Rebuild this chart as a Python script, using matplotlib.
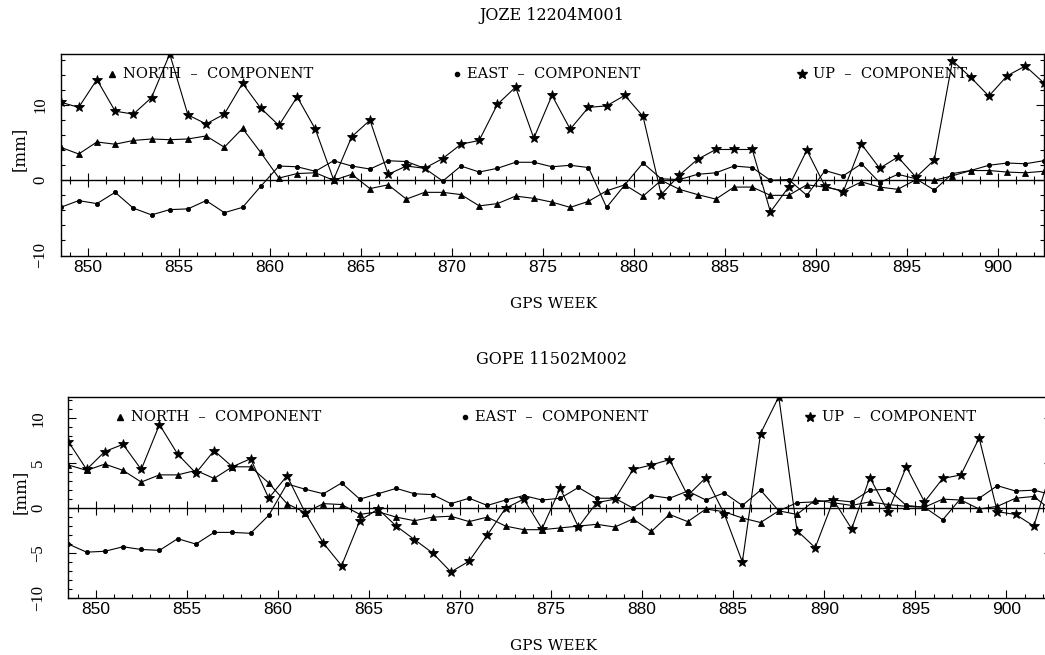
import numpy as np
import matplotlib
matplotlib.use("Agg")
import matplotlib.pyplot as plt
from matplotlib.ticker import MultipleLocator

# ---------------- data ----------------
weeks = np.arange(848.5, 903.0, 1.0)

joze_north = [4.4, 3.5, 5.1, 4.8, 5.3, 5.5, 5.4, 5.5, 5.9, 4.4, 6.9, 3.7,
              0.3, 0.9, 1.0, 0.0, 0.8, -1.1, -0.6, -2.5, -1.6, -1.6,
              -1.9, -3.4, -3.1, -2.1, -2.4, -2.9, -3.6, -2.8, -1.4, -0.6,
              -2.1, 0.0, -1.2, -1.9, -2.5, -0.9, -0.9, -2.0, -2.0, -0.6,
              -0.9, -1.4, -0.2, -0.9, -1.2, 0.1, 0.0, 0.6, 1.3, 1.3,
              1.1, 1.0, 1.2]
joze_east = [-3.6, -2.7, -3.1, -1.6, -3.7, -4.6, -3.9, -3.8, -2.7, -4.3, -3.6, -0.8,
             1.9, 1.8, 1.2, 2.6, 1.9, 1.5, 2.6, 2.5, 1.6, -0.1,
             1.9, 1.1, 1.6, 2.4, 2.4, 1.8, 2.0, 1.7, -3.6, -0.6,
             2.3, 0.2, 0.1, 0.8, 1.0, 1.9, 1.7, 0.0, 0.1, -2.0,
             1.3, 0.6, 2.2, -0.3, 0.8, 0.2, -1.3, 0.9, 1.3, 2.0,
             2.3, 2.2, 2.6]
joze_up = [10.4, 9.7, 13.4, 9.2, 8.8, 11.0, 16.8, 8.7, 7.5, 8.8, 12.9, 9.6,
           7.3, 11.1, 6.8, 0.1, 5.8, 8.0, 0.8, 1.9, 1.6, 2.9,
           4.8, 5.3, 10.1, 12.4, 5.6, 11.3, 6.8, 9.7, 9.9, 11.3,
           8.5, -1.9, 0.7, 2.8, 4.1, 4.1, 4.1, -4.2, -0.9, 4.0,
           -0.8, -1.5, 4.8, 1.6, 3.1, 0.4, 2.7, 15.9, 13.7, 11.2,
           13.9, 15.2, 13.0]

gope_north = [4.8, 4.2, 4.9, 4.2, 2.9, 3.7, 3.7, 4.2, 3.3, 4.6, 4.6, 2.8,
              0.5, -0.5, 0.5, 0.4, -0.7, -0.4, -1.0, -1.4, -1.0, -0.9,
              -1.5, -1.0, -2.0, -2.4, -2.4, -2.2, -2.0, -1.8, -2.1, -1.2,
              -2.6, -0.7, -1.5, -0.1, -0.4, -1.1, -1.6, -0.3, -0.7, 0.9,
              0.6, 0.3, 0.7, 0.4, 0.2, 0.1, 1.0, 0.9, -0.1, 0.2,
              1.1, 1.3, -0.3]
gope_east = [-4.0, -4.9, -4.8, -4.3, -4.6, -4.7, -3.4, -4.0, -2.7, -2.7, -2.8, -0.8,
             2.7, 2.1, 1.6, 2.8, 1.0, 1.6, 2.2, 1.6, 1.5, 0.5,
             1.1, 0.3, 0.9, 1.4, 0.9, 1.1, 2.3, 1.1, 1.1, 0.0,
             1.4, 1.1, 1.9, 0.9, 1.7, 0.3, 2.0, -0.3, 0.6, 0.7,
             0.9, 0.7, 2.0, 2.1, 0.3, 0.1, -1.3, 1.1, 1.1, 2.5,
             1.9, 2.0, 1.5]
gope_up = [7.4, 4.3, 6.3, 7.1, 4.3, 9.3, 6.0, 3.9, 6.4, 4.6, 5.5, 1.1,
           3.6, -0.5, -3.9, -6.4, -1.4, -0.1, -2.0, -3.5, -5.0, -7.1,
           -5.9, -3.0, 0.0, 1.0, -2.3, 2.2, -2.1, 0.6, 1.0, 4.3,
           4.8, 5.4, 1.4, 3.4, -0.6, -6.0, 8.3, 12.4, -2.5, -4.4,
           0.9, -2.3, 3.4, -0.4, 4.6, 0.7, 3.3, 3.7, 7.8, -0.4,
           -0.7, -2.0, 4.5]

titles = ["JOZE 12204M001", "GOPE 11502M002"]
legend_labels = ["NORTH  \u2013  COMPONENT", "EAST  \u2013  COMPONENT", "UP  \u2013  COMPONENT"]
xlabel = "GPS WEEK"
ylabel = "[mm]"

# ---------------- figure ----------------
W, H = 1045, 655
fig = plt.figure(figsize=(W / 100, H / 100), dpi=100)

SERIF = "DejaVu Serif"
SANS = "Liberation Sans"


def fx(px):
    return px / W


def fy(py):
    return 1 - py / H


panels = [
    dict(rect=[fx(60.5), fy(255.5), fx(983), 201.5 / H], ylim=(-10, 16.8),
         ymaj=10, ymin=2, data=(joze_north, joze_east, joze_up), title=titles[0],
         title_y=16, xl_y=304, yl=(19, 149), ylpad=8.8),
    dict(rect=[fx(68.4), fy(598), fx(983.6), 201.3 / H], ylim=(-10, 12.4),
         ymaj=5, ymin=1, data=(gope_north, gope_east, gope_up), title=titles[1],
         title_y=360, xl_y=646, yl=(20, 492), ylpad=16.0),
]

leg_pos = [(0.052, 0.0636), (0.403, 0.4138), (0.754, 0.7658)]
markers = [("^", 4.6), ("o", 3.0), ("*", 7.0)]

for p in panels:
    ax = fig.add_axes(p["rect"])
    north, east, up = p["data"]
    for series, (m, ms) in zip((north, east, up), markers):
        ax.plot(weeks, series, color="black", lw=0.8, marker=m, ms=ms,
                mfc="black", mec="black", mew=0.6, clip_on=True)
    ax.set_xlim(848.5, 902.5)
    ax.set_ylim(*p["ylim"])
    ax.xaxis.set_major_locator(MultipleLocator(5))
    ax.xaxis.set_minor_locator(MultipleLocator(1))
    ax.yaxis.set_major_locator(MultipleLocator(p["ymaj"]))
    ax.yaxis.set_minor_locator(MultipleLocator(p["ymin"]))
    ax.tick_params(which="both", direction="in", top=True, right=True, width=0.8,
                   color="black")
    ax.tick_params(which="major", length=5.5)
    ax.tick_params(which="minor", length=3)
    ax.tick_params(axis="x", labelsize=12.5, pad=3)
    ax.tick_params(axis="y", labelsize=12, pad=p["ylpad"])
    for lab in ax.get_xticklabels():
        lab.set_family(SANS)
    for lab in ax.get_yticklabels():
        lab.set_family("Liberation Serif")
        lab.set_rotation(90)
        lab.set_va("center")
        lab.set_ha("right")
    for s in ax.spines.values():
        s.set_linewidth(1.0)
        s.set_color("black")

    # zero line with ticks
    tw = ax.twiny()
    tw.set_xlim(ax.get_xlim())
    tw.spines["bottom"].set_position(("data", 0))
    for k in ("top", "left", "right"):
        tw.spines[k].set_visible(False)
    tw.spines["bottom"].set_linewidth(1.0)
    tw.xaxis.set_ticks_position("bottom")
    tw.xaxis.set_major_locator(MultipleLocator(5))
    tw.xaxis.set_minor_locator(MultipleLocator(1))
    tw.tick_params(which="both", direction="inout", labelbottom=False,
                   labeltop=False, width=0.8, color="black")
    tw.tick_params(which="major", length=10)
    tw.tick_params(which="minor", length=5.5)

    # legend
    for (mx, tx), (m, ms), lab in zip(leg_pos, markers, legend_labels):
        ax.plot([mx], [0.9007], transform=ax.transAxes, marker=m, ms=ms,
                color="black", ls="none", clip_on=False)
        ax.text(tx, 0.9007, lab, transform=ax.transAxes, family=SERIF,
                fontsize=10.5, va="center", ha="left")

    fig.text(fx(552), fy(p["title_y"]), p["title"], family=SERIF,
             fontsize=11.5, ha="center", va="center")
    fig.text(fx(553), fy(p["xl_y"]), xlabel, family=SERIF, fontsize=11,
             ha="center", va="center")
    fig.text(fx(p["yl"][0]), fy(p["yl"][1]), ylabel, family=SERIF,
             fontsize=12, ha="center", va="center", rotation=90)

fig.savefig("out.png", dpi=100)
